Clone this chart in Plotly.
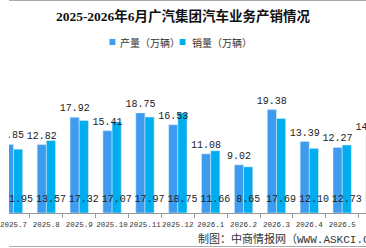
import plotly.graph_objects as go

months = ["2025.7", "2025.8", "2025.9", "2025.10", "2025.11", "2025.12",
          "2026.1", "2026.2", "2026.3", "2026.4", "2026.5", "2026.6"]
production = [12.85, 12.82, 17.92, 15.41, 18.75, 16.53, 11.08, 9.02, 19.38, 13.39, 12.27, 14.50]
sales = [11.95, 13.57, 17.32, 17.07, 17.97, 18.75, 11.66, 8.65, 17.69, 12.10, 12.73, None]
series_names = ["产量（万辆）", "销量（万辆）"]
title_text = "2025-2026年6月广汽集团汽车业务产销情况"
source_text = "制图：中商情报网（WWW.ASKCI.COM）"

C_PROD = "#3D9BF0"
C_SALE = "#00AEEF"
W, H = 366, 248
T, B = 60, 35
plot_h = H - T - B
BARGAP = 0.442
XRANGE = [-0.1365, 10.724]

def py(px):  # pixel y -> paper y
    return (H - B - px) / plot_h
def px_(x):
    return x / W

num_font = dict(family="Liberation Mono, DejaVu Sans Mono, monospace", size=10, color="#222")
tick_font = dict(family="Liberation Mono, monospace", size=7.5, color="#333")

fig = go.Figure()
fig.add_trace(go.Bar(x=months, y=production, name=series_names[0], marker_color=C_PROD,
                     showlegend=False, hoverinfo="skip"))
fig.add_trace(go.Bar(x=months, y=sales, name=series_names[1], marker_color=C_SALE,
                     showlegend=False, hoverinfo="skip"))

half = (1 - BARGAP) / 4
idx = list(range(len(months)))
fig.add_trace(go.Scatter(
    x=[i - half for i in idx], y=production, xaxis="x2", mode="markers+text",
    text=[f"{v:.2f}" for v in production], textposition="top center",
    textfont=num_font, marker=dict(size=4, opacity=0), cliponaxis=True,
    showlegend=False, hoverinfo="skip"))
sx = [i + half for i, v in zip(idx, sales) if v is not None]
st = [f"{v:.2f}" for v in sales if v is not None]
fig.add_trace(go.Scatter(
    x=sx, y=[0] * len(sx), xaxis="x2", mode="markers+text",
    text=st, textposition="top center", textfont=num_font,
    marker=dict(size=12, opacity=0), cliponaxis=True,
    showlegend=False, hoverinfo="skip"))

shapes = []
annotations = []
leg = [(103, C_PROD, series_names[0], 112), (175, C_SALE, series_names[1], 186)]
for lx, col, name, tx in leg:
    shapes.append(dict(type="rect", xref="paper", yref="paper",
                       x0=px_(lx), x1=px_(lx + 6), y0=py(45), y1=py(39),
                       fillcolor=col, line=dict(width=0)))
    annotations.append(dict(text=name, xref="paper", yref="paper", x=px_(tx), y=py(42),
                            xanchor="left", yanchor="middle", showarrow=False,
                            font=dict(family="Noto Sans CJK SC", size=10, color="#333")))
for yy in (0.5, 246.5):
    shapes.append(dict(type="line", xref="paper", yref="paper", x0=0, x1=1,
                       y0=py(yy), y1=py(yy), line=dict(color="#AAAAAA", width=1)))
annotations.append(dict(text=source_text, xref="paper", yref="paper", x=px_(192), y=py(238.5),
                        xanchor="left", yanchor="middle", showarrow=False,
                        font=dict(family="Liberation Mono, Noto Sans CJK SC", size=11, color="#333")))

fig.update_layout(
    width=W, height=H, margin=dict(l=0, r=0, t=T, b=B),
    paper_bgcolor="white", plot_bgcolor="white",
    barmode="group", bargap=BARGAP, bargroupgap=0,
    title=dict(text="<b>" + title_text + "</b>", x=0.5, xanchor="center",
               y=1 - 16 / H, yanchor="middle",
               font=dict(family="Liberation Serif, Noto Sans CJK SC", size=13.5, color="#111")),
    xaxis=dict(type="category", range=XRANGE, showline=True, linecolor="#999",
               linewidth=1, ticks="outside", tickson="boundaries", ticklen=4, tickcolor="#999",
               showgrid=False, showticklabels=False),
    xaxis2=dict(type="linear", range=XRANGE, overlaying="x", side="bottom",
                tickmode="array", tickvals=idx, ticktext=months, tickangle=0,
                ticks="outside", ticklen=4, tickcolor="rgba(0,0,0,0)",
                showline=False, showgrid=False, zeroline=False,
                ticklabeloverflow="allow", tickfont=tick_font),
    yaxis=dict(visible=False, range=[0, plot_h / 5.34]),
    shapes=shapes, annotations=annotations,
)
fig.write_html("out.html")
